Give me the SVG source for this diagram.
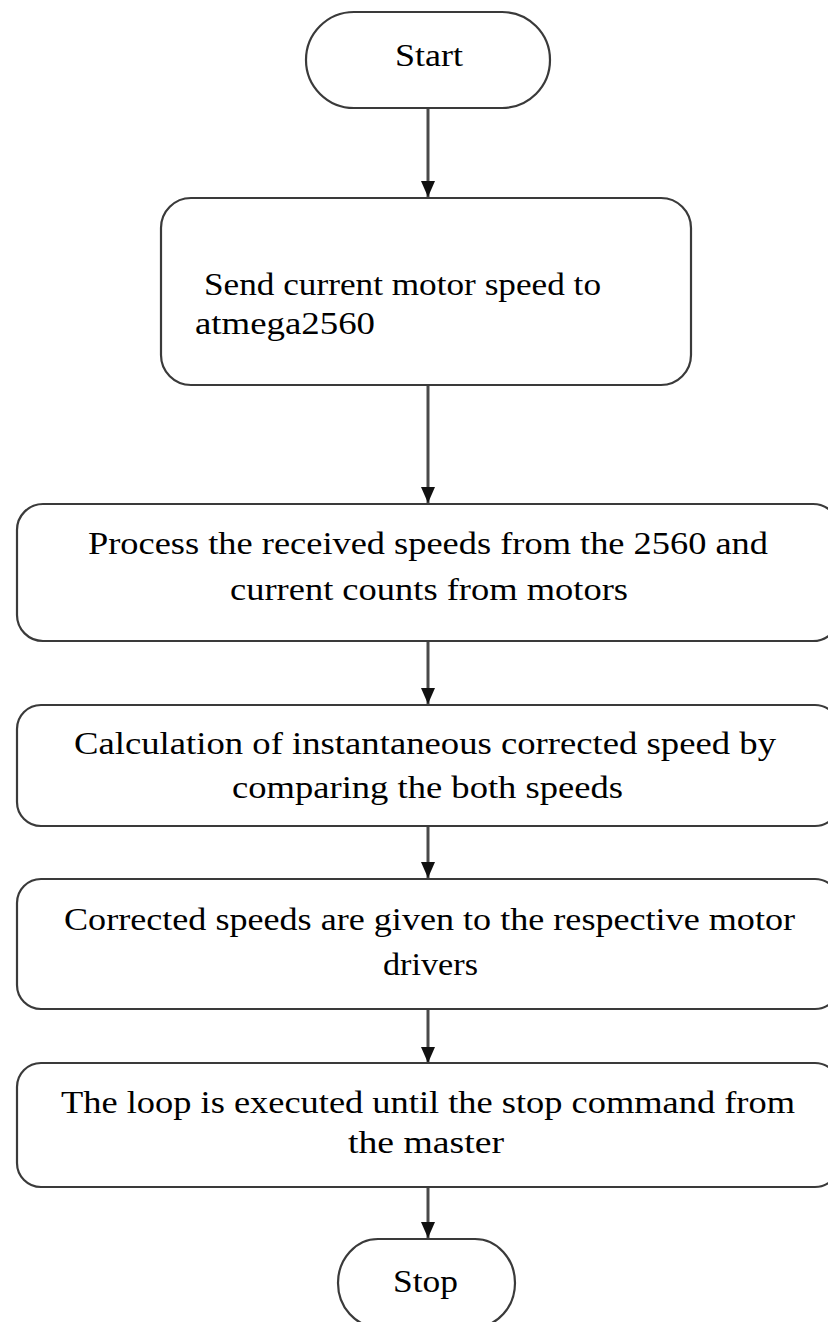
<svg xmlns="http://www.w3.org/2000/svg" width="828" height="1322" viewBox="0 0 828 1322">
<defs>
<style>
.box{fill:#fff;stroke:#3a3a3a;stroke-width:2.2}
.t{font-family:"Liberation Serif","Times New Roman",serif;font-size:32px;fill:#000;text-anchor:start}
.c{stroke:#4a4a4a;stroke-width:3;fill:none}
</style>
<marker id="ah2" markerWidth="16" markerHeight="14" refX="16" refY="7" orient="auto" markerUnits="userSpaceOnUse" viewBox="0 0 16 14">
<path d="M0,0 L16,7 L0,14 Z" fill="#111"/>
</marker>
</defs>
<rect width="828" height="1322" fill="#fff"/>
<g id="connectors">
<line class="c" x1="428" y1="108" x2="428" y2="197" marker-end="url(#ah2)"/>
<line class="c" x1="428" y1="385" x2="428" y2="503" marker-end="url(#ah2)"/>
<line class="c" x1="428" y1="641" x2="428" y2="704" marker-end="url(#ah2)"/>
<line class="c" x1="428" y1="826" x2="428" y2="878" marker-end="url(#ah2)"/>
<line class="c" x1="428" y1="1009" x2="428" y2="1063" marker-end="url(#ah2)"/>
<line class="c" x1="428" y1="1187" x2="428" y2="1238" marker-end="url(#ah2)"/>
</g>
<g id="start">
<rect class="box" x="306" y="12" width="244" height="96" rx="48" ry="48"/>
<text class="t" x="395" y="66" textLength="68" lengthAdjust="spacingAndGlyphs">Start</text>
</g>
<g id="send">
<rect class="box" x="161" y="198" width="530" height="187" rx="30" ry="30"/>
<text class="t" x="204" y="295" textLength="397" lengthAdjust="spacingAndGlyphs">Send current motor speed to</text>
<text class="t" x="195" y="334" textLength="180" lengthAdjust="spacingAndGlyphs">atmega2560</text>
</g>
<g id="process">
<rect class="box" x="17" y="504" width="822" height="137" rx="26" ry="26"/>
<text class="t" x="88" y="554" textLength="680" lengthAdjust="spacingAndGlyphs">Process the received speeds from the 2560 and</text>
<text class="t" x="230" y="600" textLength="398" lengthAdjust="spacingAndGlyphs">current counts from motors</text>
</g>
<g id="calc">
<rect class="box" x="17" y="705" width="822" height="121" rx="24" ry="24"/>
<text class="t" x="74" y="754" textLength="702" lengthAdjust="spacingAndGlyphs">Calculation of instantaneous corrected speed by</text>
<text class="t" x="232" y="798" textLength="391" lengthAdjust="spacingAndGlyphs">comparing the both speeds</text>
</g>
<g id="corrected">
<rect class="box" x="17" y="879" width="822" height="130" rx="24" ry="24"/>
<text class="t" x="64" y="930" textLength="731" lengthAdjust="spacingAndGlyphs">Corrected speeds are given to the respective motor</text>
<text class="t" x="383" y="975" textLength="95" lengthAdjust="spacingAndGlyphs">drivers</text>
</g>
<g id="loop">
<rect class="box" x="17" y="1063" width="822" height="124" rx="24" ry="24"/>
<text class="t" x="61" y="1113" textLength="734" lengthAdjust="spacingAndGlyphs">The loop is executed until the stop command from</text>
<text class="t" x="348" y="1153" textLength="156" lengthAdjust="spacingAndGlyphs">the master</text>
</g>
<g id="stop">
<rect class="box" x="338" y="1239" width="177" height="88" rx="40" ry="44"/>
<text class="t" x="393" y="1292" textLength="65" lengthAdjust="spacingAndGlyphs">Stop</text>
</g>
</svg>
